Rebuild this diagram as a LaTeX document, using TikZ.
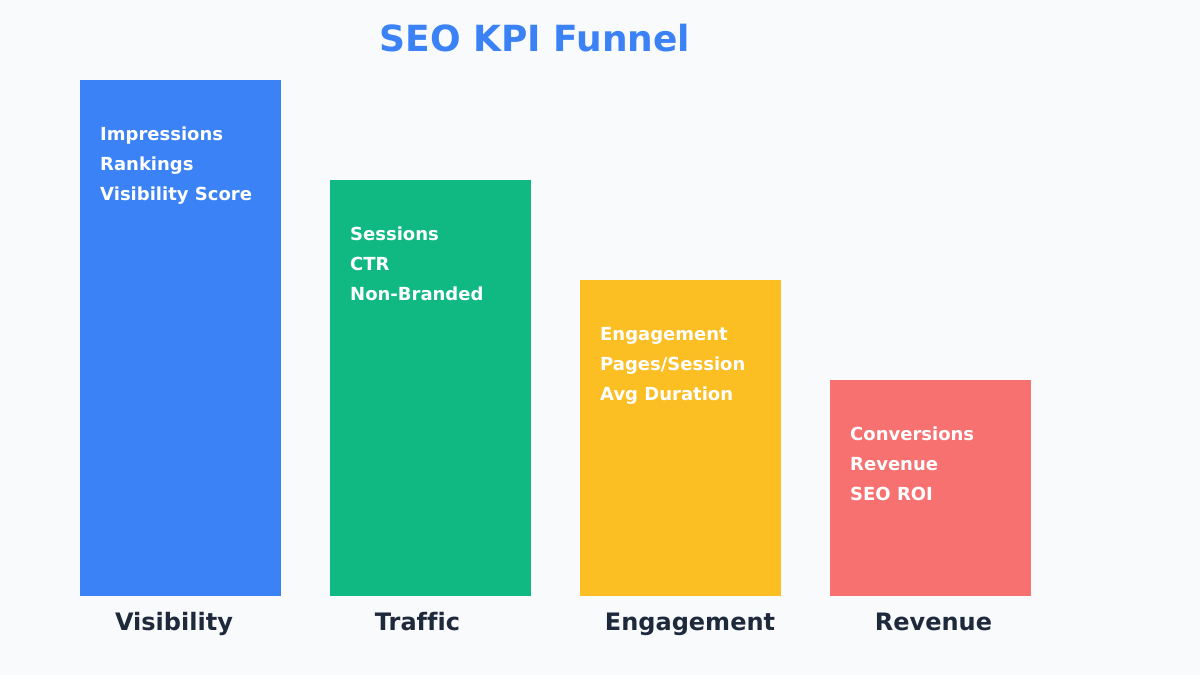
\documentclass[tikz,border=0pt]{standalone}
\usepackage{fontspec}
\setmainfont[Ligatures=NoCommon]{DejaVu Sans}
\definecolor{bg}{HTML}{F8FAFC}
\definecolor{cblue}{HTML}{3B82F6}
\definecolor{cgreen}{HTML}{10B981}
\definecolor{cyellow}{HTML}{FBBF24}
\definecolor{cred}{HTML}{F87171}
\definecolor{cdark}{HTML}{1E293B}
\begin{document}
\begin{tikzpicture}[x=1pt,y=-1pt,
  item/.style={anchor=base west, inner sep=0pt, text=white, font=\fontsize{18}{22}\selectfont\bfseries},
  lbl/.style={anchor=base, inner sep=0pt, text=cdark, font=\fontsize{24}{28}\selectfont\bfseries},
  ttl/.style={anchor=base, inner sep=0pt, text=cblue, font=\fontsize{36}{42}\selectfont\bfseries}]
\fill[bg] (0,0) rectangle (1200,675);
\useasboundingbox (0,0) rectangle (1200,675);
\node[ttl] (title) at (535,51) {SEO KPI Funnel};
% bars
\fill[cblue]   (80,80)  rectangle (281,596);
\fill[cgreen]  (330,180) rectangle (531,596);
\fill[cyellow] (580,280) rectangle (781,596);
\fill[cred]    (830,380) rectangle (1031,596);
% items
\node[item] (v1) at (100,140) {Impressions};
\node[item] (v2) at (100,170) {Rankings};
\node[item] (v3) at (100,200) {Visibility Score};
\node[item] (t1) at (350,240) {Sessions};
\node[item] (t2) at (350,270) {CTR};
\node[item] (t3) at (350,300) {Non-Branded};
\node[item] (e1) at (600,340) {Engagement};
\node[item] (e2) at (600,370) {Pages/Session};
\node[item] (e3) at (600,400) {Avg Duration};
\node[item] (r1) at (850,440) {Conversions};
\node[item] (r2) at (850,470) {Revenue};
\node[item] (r3) at (850,500) {SEO ROI};
% labels
\node[lbl] (l1) at (174,630) {Visibility};
\node[lbl] (l2) at (417.5,630) {Traffic};
\node[lbl] (l3) at (690,630) {Engagement};
\node[lbl] (l4) at (933.5,630) {Revenue};
\end{tikzpicture}
\end{document}
